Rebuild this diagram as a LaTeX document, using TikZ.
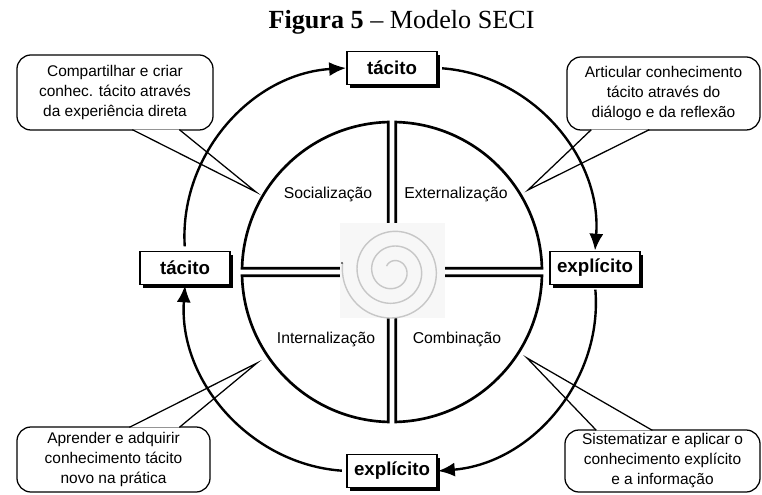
\documentclass[tikz,border=0pt]{standalone}
\usepackage{fontspec}
\setmainfont{Liberation Serif}
\setsansfont{Liberation Sans}
\usetikzlibrary{arrows.meta,shadows,calc}

\tikzset{
  rotulo/.style={draw, line width=1.3pt, fill=white, minimum width=2.25cm,
    minimum height=0.825cm, inner sep=0pt,
    font=\sffamily\bfseries\fontsize{13.3}{16}\selectfont,
    drop shadow={shadow xshift=2.2pt, shadow yshift=-2.2pt, fill=black, opacity=1}},
  balao/.style={draw, line width=0.9pt, rounded corners=0.35cm, inner sep=0pt,
    align=center, font=\sffamily\fontsize{11}{14.2}\selectfont},
  ponta/.style={line width=0.9pt, fill=white},
  fluxo/.style={line width=1.7pt, shorten <=3pt, -{Latex[length=12pt,width=10pt]}},
  quadrante/.style={line width=1.9pt, fill=white},
  modo/.style={font=\sffamily\fontsize{11.2}{13}\selectfont},
  espiral/.style={line width=1pt, black!22},
}

\begin{document}
\begin{tikzpicture}[x=0.025cm, y=0.025cm]
  \useasboundingbox (0,0) rectangle (762,494);

  \node[font=\fontsize{18.6}{22}\selectfont, anchor=base] (titulo) at (401.5,465)
    {\textbf{Figura 5} – Modelo SECI};

  % baloes
  \node[balao, minimum width=4.9cm, minimum height=1.875cm] (csoc) at (115,401.5)
    {Compartilhar e criar\\conhec. tácito através\\da experiência direta};
  \node[balao, minimum width=4.825cm, minimum height=1.825cm] (cext) at (663.5,400.5)
    {Articular conhecimento\\tácito através do\\diálogo e da reflexão};
  \node[balao, minimum width=4.825cm, minimum height=1.625cm] (cint) at (113.5,34.5)
    {Aprender e adquirir\\conhecimento tácito\\novo na prática};
  \node[balao, minimum width=4.875cm, minimum height=1.55cm] (ccomb) at (662.5,33)
    {Sistematizar e aplicar o\\conhecimento explícito\\e a informação};

  \coordinate (psoc) at (256,302);
  \coordinate (pext) at (528,304);
  \coordinate (pint) at (257,131);
  \coordinate (pcomb) at (527,136);
  \draw[ponta] ($(csoc.south west)+(116,1)$) -- (psoc) -- ($(csoc.south west)+(163,1)$);
  \draw[ponta] ($(cext.south west)+(25,1)$) -- (pext) -- ($(cext.south west)+(83,1)$);
  \draw[ponta] ($(cint.north west)+(113,-1)$) -- (pint) -- ($(cint.north west)+(163,-1)$);
  \draw[ponta] ($(ccomb.north west)+(32,-1)$) -- (pcomb) -- ($(ccomb.north west)+(88,-1)$);

  % caixas
  \node[rotulo] (tacT) at (392,426) {tácito};
  \node[rotulo] (tacL) at (185,226) {tácito};
  \node[rotulo] (expR) at (595,226) {explícito};
  \node[rotulo] (expB) at (392,23) {explícito};

  % ciclo
  \draw[fluxo] (tacL.north) to[bend left=45] (tacT.west);
  \draw[fluxo] (tacT.east) to[bend left=45] (expR.north);
  \draw[fluxo] (expR.south) to[bend left=45] (expB.east);
  \draw[fluxo] (expB.west) to[bend left=45] (tacL.south);

  % quadrantes
  \foreach \sx/\sy in {1/1,-1/1,-1/-1,1/-1}
    \draw[quadrante, shift={(392,222)}, xscale=\sx, yscale=\sy]
      (3.8,3.8) -- (3.8,149.95) arc[start angle=88.55, end angle=1.45, radius=150] -- cycle;

  % espiral
  \fill[black!3] (340,176) rectangle (445,271);
  \draw[espiral] plot[domain=0:1052, samples=260, smooth, variable=\t]
    ({393+(8+0.04087*\t)*cos(143-\t)}, {223+(8+0.04087*\t)*sin(143-\t)});
  \fill[black!70] (342,231) circle (1.2);

  \node[modo] (soc) at (328,300) {Socialização};
  \node[modo] (ext) at (456,300) {Externalização};
  \node[modo] (int) at (326,155) {Internalização};
  \node[modo] (comb) at (457,155) {Combinação};
\end{tikzpicture}
\end{document}
